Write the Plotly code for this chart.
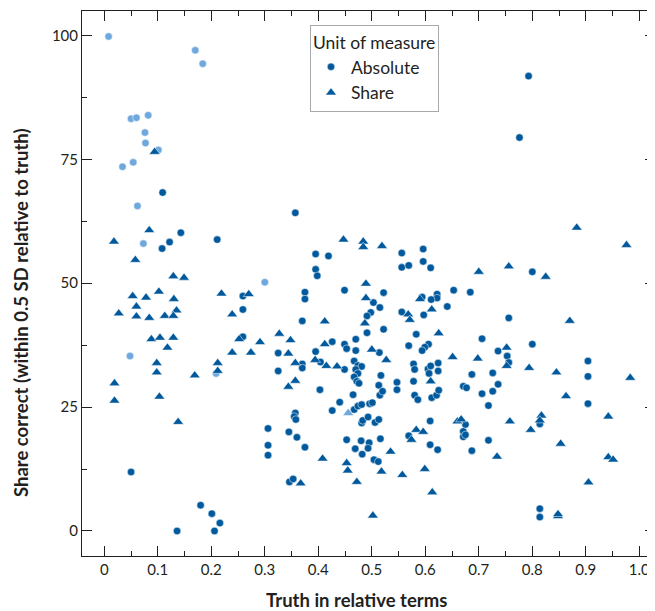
import plotly.graph_objects as go

# ---- data ----
absolute_x = [0.109, 0.143, 0.122, 0.108, 0.211, 0.259, 0.259, 0.259, 0.325, 0.325, 0.050, 0.306, 0.306, 0.306,
              0.180, 0.201, 0.216, 0.136, 0.206,
              0.357, 0.395, 0.419, 0.556, 0.596, 0.395, 0.398, 0.556, 0.569, 0.596, 0.610, 0.375, 0.375, 0.449,
              0.522, 0.503, 0.515, 0.498, 0.491, 0.522, 0.491, 0.653, 0.684, 0.622, 0.622, 0.611, 0.594, 0.641,
              0.556, 0.597, 0.370, 0.426, 0.449, 0.453, 0.470, 0.470, 0.514, 0.583, 0.569, 0.606, 0.599, 0.594,
              0.395, 0.404, 0.370, 0.370, 0.449, 0.467, 0.474, 0.481, 0.470, 0.474, 0.467, 0.472, 0.476,
              0.517, 0.513, 0.547, 0.547, 0.578, 0.580, 0.578, 0.605, 0.610, 0.624, 0.624, 0.607, 0.671, 0.677,
              0.687, 0.403, 0.465, 0.515, 0.520, 0.580, 0.586, 0.612, 0.621, 0.625,
              0.440, 0.426, 0.467, 0.474, 0.481, 0.496, 0.501, 0.357, 0.355, 0.358, 0.345, 0.360, 0.375, 0.481,
              0.483, 0.493, 0.506, 0.513, 0.453, 0.480, 0.495, 0.493, 0.469, 0.482, 0.516, 0.504, 0.512, 0.346,
              0.353, 0.609, 0.569, 0.609, 0.623, 0.671, 0.671, 0.675, 0.675, 0.687,
              0.706, 0.736, 0.753, 0.756, 0.726, 0.736, 0.726, 0.706, 0.718, 0.718, 0.756, 0.904, 0.904, 0.800,
              0.800, 0.793, 0.776, 0.904, 0.814, 0.814, 0.814]
absolute_y = [68.3, 60.2, 58.3, 57.0, 58.8, 47.4, 44.7, 39.2, 35.9, 32.3, 11.9, 20.7, 17.3, 15.3,
              5.2, 3.5, 1.6, 0.0, 0.0,
              64.2, 55.9, 55.5, 56.1, 56.9, 52.8, 51.5, 53.2, 53.6, 54.4, 53.1, 48.2, 46.8, 48.6,
              48.1, 46.1, 45.1, 44.1, 43.4, 40.7, 40.0, 48.6, 48.2, 47.8, 47.0, 46.7, 47.2, 45.3,
              44.2, 43.6, 42.4, 38.2, 37.7, 36.8, 38.7, 36.4, 36.0, 39.7, 37.4, 37.7, 37.1, 36.4,
              36.2, 34.1, 33.7, 32.9, 32.6, 34.3, 33.4, 33.2, 32.6, 31.8, 31.1, 30.2, 29.8,
              31.4, 29.4, 30.0, 28.5, 33.7, 32.6, 30.2, 32.7, 33.3, 33.9, 32.3, 31.8, 29.2, 28.9,
              31.6, 28.5, 27.5, 27.4, 28.2, 27.4, 26.5, 26.9, 27.4, 28.4,
              26.0, 24.3, 24.5, 25.2, 25.5, 25.7, 25.9, 23.8, 23.1, 22.5, 20.0, 18.9, 16.9, 21.8,
              22.3, 23.0, 21.9, 22.5, 18.4, 18.2, 17.8, 16.7, 16.6, 15.5, 18.6, 14.4, 14.0, 9.9,
              10.5, 22.2, 19.2, 17.4, 16.4, 20.1, 19.0, 19.4, 21.5, 16.2,
              38.8, 36.3, 35.3, 34.0, 31.9, 29.6, 28.2, 27.7, 25.3, 18.3, 43.0, 34.3, 31.2, 37.7,
              52.3, 91.8, 79.4, 25.7, 21.6, 4.5, 2.8]

share_x = [0.094, 0.084, 0.018, 0.058, 0.129, 0.149, 0.053, 0.078, 0.102, 0.130, 0.219, 0.270, 0.060, 0.135,
           0.027, 0.060, 0.084, 0.113, 0.129, 0.239, 0.088, 0.104, 0.129, 0.118, 0.252, 0.291, 0.327,
           0.098, 0.098, 0.239, 0.274, 0.169, 0.212, 0.212, 0.019, 0.019, 0.103, 0.138,
           0.447, 0.484, 0.484, 0.519, 0.489, 0.489, 0.487, 0.590, 0.612, 0.568, 0.571, 0.412, 0.348, 0.412,
           0.500, 0.625, 0.651, 0.344, 0.394, 0.357, 0.415, 0.435, 0.527, 0.357, 0.344, 0.610,
           0.535, 0.408, 0.453, 0.455, 0.518, 0.557, 0.599, 0.472, 0.367, 0.613, 0.502, 0.574, 0.583, 0.596,
           0.660, 0.667,
           0.700, 0.698, 0.752, 0.752, 0.794, 0.845, 0.863, 0.983, 0.756, 0.825, 0.883, 0.976, 0.870, 0.734,
           0.758, 0.797, 0.817, 0.814, 0.853, 0.942, 0.942, 0.951, 0.905, 0.848, 0.848]
share_y = [76.5, 60.7, 58.4, 54.7, 51.4, 51.1, 47.4, 47.1, 48.3, 46.8, 47.9, 47.8, 45.3, 44.5,
           43.9, 43.3, 43.0, 43.4, 43.4, 43.7, 38.7, 39.0, 39.0, 37.0, 38.7, 38.1, 39.8,
           33.9, 32.0, 36.0, 36.0, 31.4, 33.9, 32.3, 29.8, 26.3, 27.1, 22.0,
           58.8, 58.4, 57.3, 57.5, 49.9, 47.0, 41.9, 46.8, 44.7, 43.7, 42.6, 42.3, 38.5, 37.7,
           36.6, 39.9, 35.1, 35.8, 34.5, 33.9, 33.3, 33.2, 34.5, 30.3, 29.1, 30.2,
           16.0, 14.6, 13.7, 12.2, 12.0, 11.3, 12.5, 9.9, 9.6, 7.8, 3.1, 18.4, 20.4, 20.0,
           22.1, 22.5,
           52.3, 34.8, 37.0, 33.3, 32.9, 32.0, 27.2, 30.9, 53.4, 51.3, 61.2, 57.7, 42.4, 15.0,
           22.1, 20.4, 23.3, 22.3, 17.6, 23.1, 14.9, 14.4, 9.8, 3.0, 3.4]

highlight_circle_x = [0.008, 0.170, 0.184, 0.050, 0.060, 0.082, 0.076, 0.077, 0.101, 0.034, 0.054, 0.062,
                      0.073, 0.300, 0.048, 0.209]
highlight_circle_y = [99.8, 97.0, 94.3, 83.2, 83.4, 83.9, 80.4, 78.3, 76.9, 73.5, 74.4, 65.6,
                      58.0, 50.2, 35.3, 31.8]
highlight_share_x = [0.456]
highlight_share_y = [23.8]

x_ticks = [0, 0.1, 0.2, 0.3, 0.4, 0.5, 0.6, 0.7, 0.8, 0.9, 1.0]
x_ticktext = ["0", "0.1", "0.2", "0.3", "0.4", "0.5", "0.6", "0.7", "0.8", "0.9", "1.0"]
y_ticks = [0, 25, 50, 75, 100]

DARK = "#00599c"
LIGHT = "#6fa8dc"
FONT = "Lato"
INK = "#231f20"

fig = go.Figure()
fig.add_trace(go.Scatter(x=highlight_circle_x, y=highlight_circle_y, mode="markers", showlegend=False,
                         name="Highlighted",
                         marker=dict(symbol="circle", size=7.5, color=LIGHT, line=dict(color="white", width=0.5))))
fig.add_trace(go.Scatter(x=absolute_x, y=absolute_y, mode="markers", name="Absolute",
                         marker=dict(symbol="circle", size=7.5, color=DARK, line=dict(color="white", width=0.5))))
fig.add_trace(go.Scatter(x=share_x, y=share_y, mode="markers", name="Share",
                         marker=dict(symbol="triangle-up", size=9.5, color=DARK, line=dict(color="white", width=0.5))))
fig.add_trace(go.Scatter(x=highlight_share_x, y=highlight_share_y, mode="markers", showlegend=False,
                         name="Highlighted share",
                         marker=dict(symbol="triangle-up", size=9.5, color=LIGHT, line=dict(color="white", width=0.5))))

axis_common = dict(showgrid=False, zeroline=False, showline=True, linecolor=INK, linewidth=1,
                   mirror="ticks", ticks="inside", ticklen=10, tickcolor=INK, tickwidth=1,
                   tickfont=dict(family=FONT, size=15, color=INK))

fig.update_xaxes(range=[-0.0417, 1.0293], tickvals=x_ticks, ticktext=x_ticktext,
                 minor=dict(dtick=0.05, tick0=0, ticks="inside", ticklen=5, tickcolor=INK),
                 **axis_common)
fig.update_yaxes(range=[-5.05, 104.94], tickvals=y_ticks,
                 minor=dict(dtick=12.5, tick0=0, ticks="inside", ticklen=5, tickcolor=INK),
                 **axis_common)

# the page body has an 8px margin, so the figure is 8px smaller and margins are offset by 8px
fig.update_layout(
    width=647, height=603,
    margin=dict(l=74, r=0, t=3, b=55),
    paper_bgcolor="white", plot_bgcolor="white",
    font=dict(family=FONT, color=INK),
    legend=dict(title=dict(text="Unit of measure", font=dict(family=FONT, size=17.5, color=INK)),
                font=dict(family=FONT, size=17.5, color=INK),
                x=(310 - 82) / 573, y=0.974, xanchor="left", yanchor="top",
                bgcolor="white", bordercolor="#a7a9ac", borderwidth=1,
                itemwidth=30, tracegroupgap=0),
    annotations=[
        dict(text="<b>Truth in relative terms</b>", xref="paper", yref="paper", showarrow=False,
             x=(356 - 82) / 573, y=-(600 - 556) / 545, xanchor="center", yanchor="middle",
             font=dict(family=FONT, size=18.5, color=INK)),
        dict(text="<b>Share correct (within 0.5 SD relative to truth)</b>", xref="paper", yref="paper",
             showarrow=False, textangle=-90,
             x=-(82 - 21) / 573, y=(556 - 313) / 545, xanchor="center", yanchor="middle",
             font=dict(family=FONT, size=18.5, color=INK)),
    ],
)

fig.write_html("out.html")
